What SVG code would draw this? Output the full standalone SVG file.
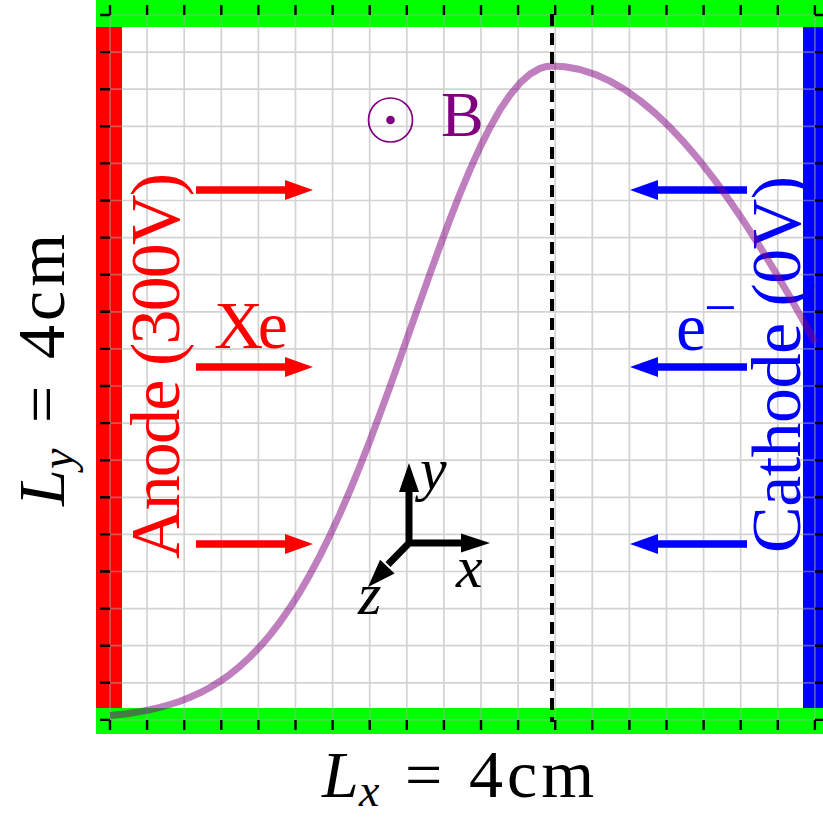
<svg xmlns="http://www.w3.org/2000/svg" xmlns:xlink="http://www.w3.org/1999/xlink" width="823" height="819" viewBox="0 0 823 819">
<style>
.lbl{font-family:"Liberation Serif","DejaVu Serif",serif;}
.it{font-style:italic;}
.grid{fill:none;stroke:#a8a8a8;stroke-opacity:0.5;stroke-width:1.7;}
.tick{fill:none;stroke:#000;stroke-width:2.4;}
</style>
<defs>
<path id="arr" d="M0,-3.8 H89 V-10 L117,0 L89,10 V3.8 H0 Z"/>
</defs>
<rect width="823" height="819" fill="#fff"/>
<g id="walls">
<rect x="96" y="0" width="740" height="27" fill="#00ff00"/>
<rect x="96" y="708" width="740" height="26" fill="#00ff00"/>
<rect x="96" y="27" width="26" height="681" fill="#ff0000"/>
<rect x="803" y="27" width="26" height="681" fill="#0000ff"/>
</g>
<g id="grid">
<path class="grid" d="M110,15V720M147.1,15V720M184.2,15V720M221.3,15V720M258.4,15V720M295.5,15V720M332.6,15V720M369.7,15V720M406.8,15V720M443.9,15V720M481,15V720M518.1,15V720M555.2,15V720M592.3,15V720M629.4,15V720M666.5,15V720M703.6,15V720M740.7,15V720M777.8,15V720M814.9,15V720
M110,15H815M110,52.1H815M110,89.2H815M110,126.3H815M110,163.4H815M110,200.5H815M110,237.6H815M110,274.7H815M110,311.8H815M110,348.9H815M110,386H815M110,423.1H815M110,460.2H815M110,497.3H815M110,534.4H815M110,571.5H815M110,608.6H815M110,645.7H815M110,682.8H815M110,719.9H815"/>
<path class="tick" d="M110,5V15M147.1,5V15M184.2,5V15M221.3,5V15M258.4,5V15M295.5,5V15M332.6,5V15M369.7,5V15M406.8,5V15M443.9,5V15M481,5V15M518.1,5V15M555.2,5V15M592.3,5V15M629.4,5V15M666.5,5V15M703.6,5V15M740.7,5V15M777.8,5V15M814.9,5V15
M110,720V730M147.1,720V730M184.2,720V730M221.3,720V730M258.4,720V730M295.5,720V730M332.6,720V730M369.7,720V730M406.8,720V730M443.9,720V730M481,720V730M518.1,720V730M555.2,720V730M592.3,720V730M629.4,720V730M666.5,720V730M703.6,720V730M740.7,720V730M777.8,720V730M814.9,720V730
M100,15H110M100,52.1H110M100,89.2H110M100,126.3H110M100,163.4H110M100,200.5H110M100,237.6H110M100,274.7H110M100,311.8H110M100,348.9H110M100,386H110M100,423.1H110M100,460.2H110M100,497.3H110M100,534.4H110M100,571.5H110M100,608.6H110M100,645.7H110M100,682.8H110M100,719.9H110
M815,15H825M815,52.1H825M815,89.2H825M815,126.3H825M815,163.4H825M815,200.5H825M815,237.6H825M815,274.7H825M815,311.8H825M815,348.9H825M815,386H825M815,423.1H825M815,460.2H825M815,497.3H825M815,534.4H825M815,571.5H825M815,608.6H825M815,645.7H825M815,682.8H825M815,719.9H825"/>
</g>
<g id="anode-label">
<text class="lbl" fill="#ff0000" font-size="70" transform="translate(179,559) rotate(-90)" textLength="386" lengthAdjust="spacing">Anode (300V)</text>
</g>
<g id="cathode-label">
<text class="lbl" fill="#0000ff" font-size="70" transform="translate(800,553) rotate(-90)" textLength="377" lengthAdjust="spacing">Cathode (0V)</text>
</g>
<g id="xe">
<text class="lbl" fill="#ff0000" font-size="68" x="214" y="348" textLength="74" lengthAdjust="spacing">Xe</text>
<use xlink:href="#arr" href="#arr" fill="#ff0000" transform="translate(196,190)"/>
<use xlink:href="#arr" href="#arr" fill="#ff0000" transform="translate(196,367)"/>
<use xlink:href="#arr" href="#arr" fill="#ff0000" transform="translate(196,544)"/>
</g>
<g id="electrons">
<text class="lbl" fill="#0000ff" font-size="68" x="676" y="350">e<tspan x="704" y="327" font-size="58">−</tspan></text>
<use xlink:href="#arr" href="#arr" fill="#0000ff" transform="translate(747,190) scale(-1,1)"/>
<use xlink:href="#arr" href="#arr" fill="#0000ff" transform="translate(747,367) scale(-1,1)"/>
<use xlink:href="#arr" href="#arr" fill="#0000ff" transform="translate(747,544) scale(-1,1)"/>
</g>
<g id="bfield">
<circle cx="390.5" cy="120" r="22" fill="none" stroke="#800080" stroke-width="1.7"/>
<circle cx="390.5" cy="120" r="4.3" fill="#800080"/>
<text class="lbl" fill="#800080" font-size="64" x="441" y="136">B</text>
</g>
<g id="axes">
<path d="M409,546.5V490M405.5,543H462M411.5,540.5L388,564.5" fill="none" stroke="#000" stroke-width="7"/>
<path d="M409,463L419,492L399,492Z M490,543L461,552.5L461,533.5Z M368,587L380.1,559.8L394.6,573.6Z" fill="#000"/>
<text class="lbl it" font-size="60" x="420" y="489">y</text>
<text class="lbl it" font-size="60" x="456" y="587">x</text>
<text class="lbl it" font-size="60" x="358" y="614">z</text>
</g>
<g id="connectors">
<polyline points="110,715.6 120,714.6 130,713.2 140,711.6 150,709.7 160,707.3 170,704.5 180,701.2 190,697.3 200,692.8 210,687.5 220,681.3 230,674.3 240,666.2 250,657 260,646.6 270,635 280,622 290,607.6 300,591.8 310,574.4 320,555.6 330,535.3 340,513.6 350,490.5 360,466 370,440.4 380,413.8 390,386.5 400,358.5 410,330.1 420,301.8 430,273.6 440,246 450,219.2 460,193.6 470,169.6 480,147.4 490,127.4 500,109.8 510,95 520,82.9 530,74.1 540,68.4 545,66.8 552,66 565,66.8 580,69.5 595,74.3 610,81.1 625,89.8 640,100.5 655,113 670,127.3 685,143.4 700,161.1 715,180.4 730,201.2 745,223.3 760,246.8 775,271.5 790,297.1 805,323.9 815,342.1" fill="none" stroke="#800080" stroke-opacity="0.5" stroke-width="7" stroke-linejoin="round"/>
<line x1="552" y1="14" x2="552" y2="722" stroke="#000" stroke-width="4" stroke-dasharray="12 7"/>
</g>
<g id="dims">
<text class="lbl" font-size="66" y="797"><tspan class="it" x="322">L</tspan><tspan class="it" x="359" y="806" font-size="46">x</tspan><tspan x="405" y="797">=</tspan><tspan x="469" y="797" font-size="68" letter-spacing="4">4cm</tspan></text>
<text class="lbl" font-size="66" transform="translate(64,506) rotate(-90)"><tspan class="it" x="0" y="0">L</tspan><tspan class="it" x="37" y="9" font-size="46">y</tspan><tspan x="83" y="0">=</tspan><tspan x="147" y="0" font-size="68" letter-spacing="4">4cm</tspan></text>
</g>
</svg>
